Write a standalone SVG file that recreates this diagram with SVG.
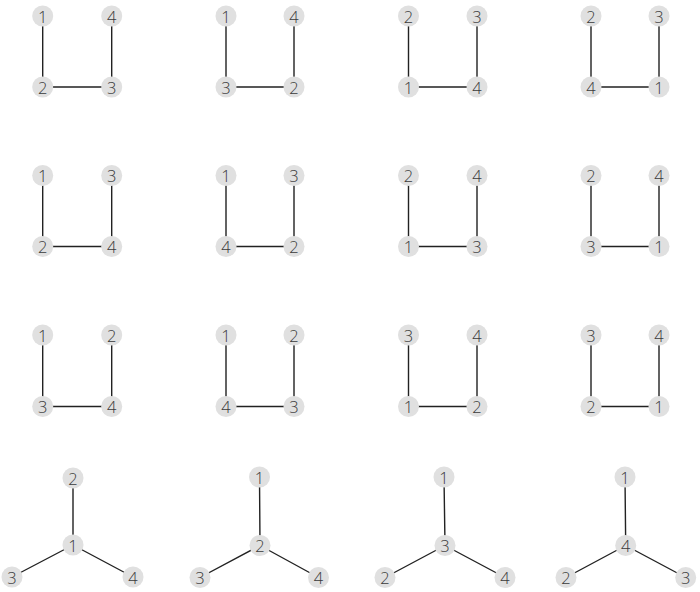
<svg xmlns="http://www.w3.org/2000/svg" width="700" height="592" viewBox="0 0 700 592">
<style>
.e{stroke:#222;stroke-width:1.4;fill:none}
.n circle{fill:#e0e0e0}
.n text{font-family:"Open Sans","Liberation Sans",sans-serif;font-weight:300;font-size:16.5px;fill:#3a3a3a;text-anchor:middle;dominant-baseline:central}
</style>
<rect width="700" height="592" fill="#fff"/>
<g id="connectors">
<path class="e" d="M42.7 16V87H111.7V16"/>
<path class="e" d="M226 16V87H294V16"/>
<path class="e" d="M408.5 16V87H477V16"/>
<path class="e" d="M591 16V87H659V16"/>
<path class="e" d="M42.7 175.5V246.5H111.7V175.5"/>
<path class="e" d="M226 175.5V246.5H294V175.5"/>
<path class="e" d="M408.5 175.5V246.5H477V175.5"/>
<path class="e" d="M591 175.5V246.5H659V175.5"/>
<path class="e" d="M42.7 335V406.5H111.7V335"/>
<path class="e" d="M226 335V406.5H294V335"/>
<path class="e" d="M408.5 335V406.5H477V335"/>
<path class="e" d="M591 335V406.5H659V335"/>
<path class="e" d="M73 478L73 545M73 545L12 577M73 545L133 577"/>
<path class="e" d="M259.5 477L260 545.5M260 545.5L200 577.5M260 545.5L318.5 577.5"/>
<path class="e" d="M444 477L445 545.5M445 545.5L385 577.5M445 545.5L505 577.5"/>
<path class="e" d="M625 477L625.7 545.5M625.7 545.5L566 577.5M625.7 545.5L685.7 577.5"/>
</g>
<g id="g1" class="n">
<circle cx="42.7" cy="16" r="10.5"/><text x="42.7" y="16">1</text>
<circle cx="111.7" cy="16" r="10.5"/><text x="111.7" y="16">4</text>
<circle cx="42.7" cy="87" r="10.5"/><text x="42.7" y="87">2</text>
<circle cx="111.7" cy="87" r="10.5"/><text x="111.7" y="87">3</text>
</g>
<g id="g2" class="n">
<circle cx="226" cy="16" r="10.5"/><text x="226" y="16">1</text>
<circle cx="294" cy="16" r="10.5"/><text x="294" y="16">4</text>
<circle cx="226" cy="87" r="10.5"/><text x="226" y="87">3</text>
<circle cx="294" cy="87" r="10.5"/><text x="294" y="87">2</text>
</g>
<g id="g3" class="n">
<circle cx="408.5" cy="16" r="10.5"/><text x="408.5" y="16">2</text>
<circle cx="477" cy="16" r="10.5"/><text x="477" y="16">3</text>
<circle cx="408.5" cy="87" r="10.5"/><text x="408.5" y="87">1</text>
<circle cx="477" cy="87" r="10.5"/><text x="477" y="87">4</text>
</g>
<g id="g4" class="n">
<circle cx="591" cy="16" r="10.5"/><text x="591" y="16">2</text>
<circle cx="659" cy="16" r="10.5"/><text x="659" y="16">3</text>
<circle cx="591" cy="87" r="10.5"/><text x="591" y="87">4</text>
<circle cx="659" cy="87" r="10.5"/><text x="659" y="87">1</text>
</g>
<g id="g5" class="n">
<circle cx="42.7" cy="175.5" r="10.5"/><text x="42.7" y="175.5">1</text>
<circle cx="111.7" cy="175.5" r="10.5"/><text x="111.7" y="175.5">3</text>
<circle cx="42.7" cy="246.5" r="10.5"/><text x="42.7" y="246.5">2</text>
<circle cx="111.7" cy="246.5" r="10.5"/><text x="111.7" y="246.5">4</text>
</g>
<g id="g6" class="n">
<circle cx="226" cy="175.5" r="10.5"/><text x="226" y="175.5">1</text>
<circle cx="294" cy="175.5" r="10.5"/><text x="294" y="175.5">3</text>
<circle cx="226" cy="246.5" r="10.5"/><text x="226" y="246.5">4</text>
<circle cx="294" cy="246.5" r="10.5"/><text x="294" y="246.5">2</text>
</g>
<g id="g7" class="n">
<circle cx="408.5" cy="175.5" r="10.5"/><text x="408.5" y="175.5">2</text>
<circle cx="477" cy="175.5" r="10.5"/><text x="477" y="175.5">4</text>
<circle cx="408.5" cy="246.5" r="10.5"/><text x="408.5" y="246.5">1</text>
<circle cx="477" cy="246.5" r="10.5"/><text x="477" y="246.5">3</text>
</g>
<g id="g8" class="n">
<circle cx="591" cy="175.5" r="10.5"/><text x="591" y="175.5">2</text>
<circle cx="659" cy="175.5" r="10.5"/><text x="659" y="175.5">4</text>
<circle cx="591" cy="246.5" r="10.5"/><text x="591" y="246.5">3</text>
<circle cx="659" cy="246.5" r="10.5"/><text x="659" y="246.5">1</text>
</g>
<g id="g9" class="n">
<circle cx="42.7" cy="335" r="10.5"/><text x="42.7" y="335">1</text>
<circle cx="111.7" cy="335" r="10.5"/><text x="111.7" y="335">2</text>
<circle cx="42.7" cy="406.5" r="10.5"/><text x="42.7" y="406.5">3</text>
<circle cx="111.7" cy="406.5" r="10.5"/><text x="111.7" y="406.5">4</text>
</g>
<g id="g10" class="n">
<circle cx="226" cy="335" r="10.5"/><text x="226" y="335">1</text>
<circle cx="294" cy="335" r="10.5"/><text x="294" y="335">2</text>
<circle cx="226" cy="406.5" r="10.5"/><text x="226" y="406.5">4</text>
<circle cx="294" cy="406.5" r="10.5"/><text x="294" y="406.5">3</text>
</g>
<g id="g11" class="n">
<circle cx="408.5" cy="335" r="10.5"/><text x="408.5" y="335">3</text>
<circle cx="477" cy="335" r="10.5"/><text x="477" y="335">4</text>
<circle cx="408.5" cy="406.5" r="10.5"/><text x="408.5" y="406.5">1</text>
<circle cx="477" cy="406.5" r="10.5"/><text x="477" y="406.5">2</text>
</g>
<g id="g12" class="n">
<circle cx="591" cy="335" r="10.5"/><text x="591" y="335">3</text>
<circle cx="659" cy="335" r="10.5"/><text x="659" y="335">4</text>
<circle cx="591" cy="406.5" r="10.5"/><text x="591" y="406.5">2</text>
<circle cx="659" cy="406.5" r="10.5"/><text x="659" y="406.5">1</text>
</g>
<g id="s1" class="n">
<circle cx="73" cy="478" r="10.5"/><text x="73" y="478">2</text>
<circle cx="73" cy="545" r="10.5"/><text x="73" y="545">1</text>
<circle cx="12" cy="577" r="10.5"/><text x="12" y="577">3</text>
<circle cx="133" cy="577" r="10.5"/><text x="133" y="577">4</text>
</g>
<g id="s2" class="n">
<circle cx="259.5" cy="477" r="10.5"/><text x="259.5" y="477">1</text>
<circle cx="260" cy="545.5" r="10.5"/><text x="260" y="545.5">2</text>
<circle cx="200" cy="577.5" r="10.5"/><text x="200" y="577.5">3</text>
<circle cx="318.5" cy="577.5" r="10.5"/><text x="318.5" y="577.5">4</text>
</g>
<g id="s3" class="n">
<circle cx="444" cy="477" r="10.5"/><text x="444" y="477">1</text>
<circle cx="445" cy="545.5" r="10.5"/><text x="445" y="545.5">3</text>
<circle cx="385" cy="577.5" r="10.5"/><text x="385" y="577.5">2</text>
<circle cx="505" cy="577.5" r="10.5"/><text x="505" y="577.5">4</text>
</g>
<g id="s4" class="n">
<circle cx="625" cy="477" r="10.5"/><text x="625" y="477">1</text>
<circle cx="625.7" cy="545.5" r="10.5"/><text x="625.7" y="545.5">4</text>
<circle cx="566" cy="577.5" r="10.5"/><text x="566" y="577.5">2</text>
<circle cx="685.7" cy="577.5" r="10.5"/><text x="685.7" y="577.5">3</text>
</g>
</svg>
